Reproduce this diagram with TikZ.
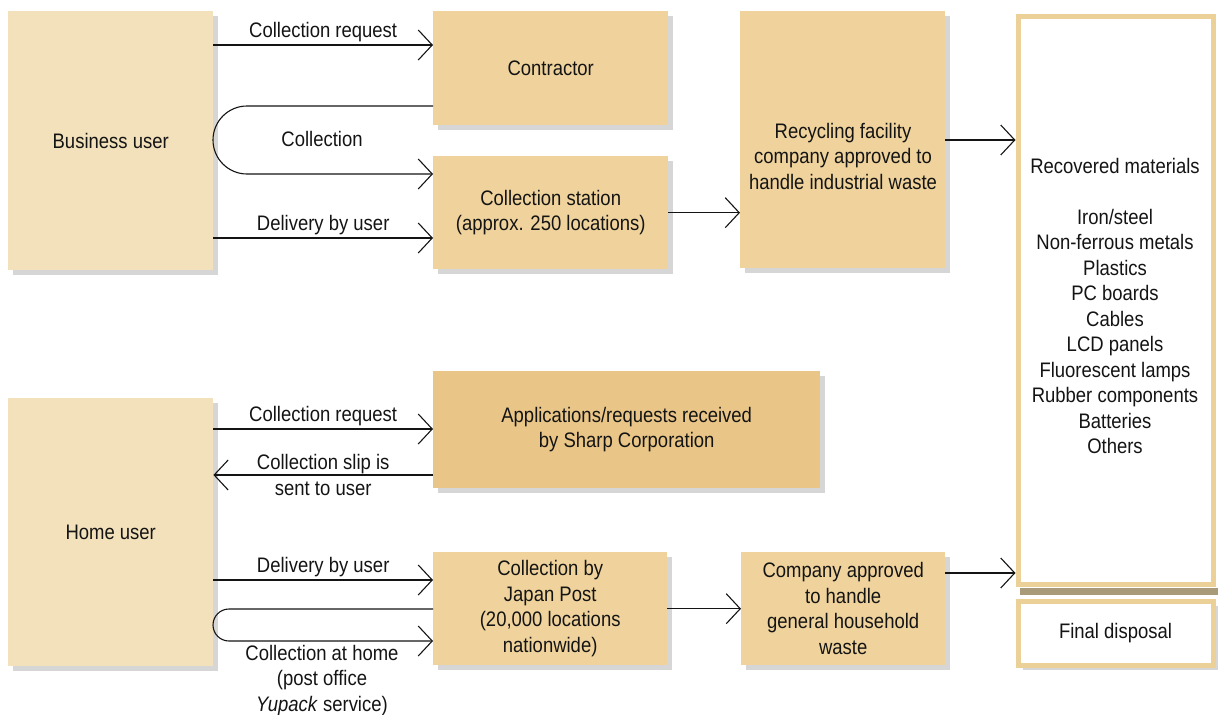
\documentclass[tikz,border=0pt]{standalone}
\usepackage{fontspec}
\setmainfont{Liberation Sans}[FakeStretch=0.88]
\usetikzlibrary{arrows.meta,shadows}

\definecolor{userfill}{HTML}{F3E1BB}
\definecolor{boxfill}{HTML}{F0D39C}
\definecolor{appfill}{HTML}{E9C687}
\definecolor{rimcol}{HTML}{EBD097}
\definecolor{bandcol}{HTML}{A99B7A}
\definecolor{inkcol}{HTML}{141414}

\begin{document}
\begin{tikzpicture}
      [x=1pt,y=-1pt
      ,font=\fontsize{21}{25.5}\selectfont
      ,every node/.style={text=inkcol}
      ,flat/.style={anchor=north west,inner sep=0,align=center}
      ,shade/.style={general shadow={shadow xshift=5pt,shadow yshift=-5pt,fill=black,opacity=.16}}
      ,box/.style={flat,shade,fill=boxfill}
      ,user/.style={box,fill=userfill}
      ,rim/.style={flat,draw=rimcol,line width=5pt,fill=white}
      ,flow/.style={line width=1.1pt,draw=inkcol,-{Straight Barb[length=14pt,width=30pt]}}
      ,lbl/.style={inner sep=2pt,align=center}]
        \useasboundingbox (0,0) rectangle (1219,715);
        % left column
        \node[user,minimum width=205,minimum height=259] (biz) at (8,11) {Business user};
        \node[user,minimum width=205,minimum height=268] (home) at (8,398) {Home user};
        % middle boxes
        \node[box,minimum width=235,minimum height=114] (contr) at (433,11) {Contractor};
        \node[box,minimum width=235,minimum height=113] (stat) at (433,156)
              {Collection station\\(approx. 250 locations)};
        \node[box,minimum width=205,minimum height=257] (recyc) at (740,11) {};
        \node[lbl] (recyctext) at (843,156)
              {Recycling facility\\company approved to\\handle industrial waste};
        \node[box,fill=appfill,minimum width=387,minimum height=117] (apps) at (433,371)
              {Applications/requests received\\by Sharp Corporation};
        \node[box,minimum width=234,minimum height=113] (jpost) at (433,552)
              {Collection by\\Japan Post\\(20,000 locations\\nationwide)};
        \node[box,minimum width=204,minimum height=113] (comp) at (741,552)
              {Company approved\\to handle\\general household\\waste};
        % right column
        \node[rim,minimum width=195,minimum height=568] (recov) at (1015.5,13.5) {};
        \fill[bandcol] (1020,588) rectangle (1218,595);
        \node[rim,shade,minimum width=195,minimum height=64] (final) at (1015.5,598.5) {Final disposal};
        \node (recovhead) at (1115,166) {Recovered materials};
        \node[align=center] (matlist) at (1115,331.5)
              {Iron/steel\\Non-ferrous metals\\Plastics\\PC boards\\Cables\\LCD panels\\
               Fluorescent lamps\\Rubber components\\Batteries\\Others};

        % business user flows
        \draw[flow] (biz.east |- 0,45) -- (contr.west |- 0,45)
              node[lbl,above=1pt,midway] (bizreq) {Collection request};
        \draw[flow] (contr.west |- 0,106) -- (247,106)
              arc[start angle=270,end angle=90,radius=34] -- (stat.west |- 0,174);
        \node[lbl] (bizcoll) at (322,139) {Collection};
        \draw[flow] (biz.east |- 0,238) -- (stat.west |- 0,238)
              node[lbl,above=1pt,midway] (bizdeliv) {Delivery by user};
        \draw[flow] (stat.east) -- (recyc.west |- stat.east);
        \draw[flow] (recyc.east |- 0,140) -- (recov.west |- 0,140);

        % home user flows
        \draw[flow] (home.east |- 0,429) -- (apps.west |- 0,429)
              node[lbl,above=1pt,midway] (homereq) {Collection request};
        \draw[flow] (apps.west |- 0,475) -- (home.east |- 0,475)
              node[lbl,midway] (homeslip) {Collection slip is\\sent to user};
        \draw[flow] (home.east |- 0,580) -- (jpost.west |- 0,580)
              node[lbl,above=1pt,midway] (homedeliv) {Delivery by user};
        \draw[flow] (jpost.west |- 0,609) -- (229,609)
              arc[start angle=270,end angle=90,radius=16] -- (jpost.west |- 0,641);
        \node[lbl,anchor=north] (homecoll) at (322,643)
              {Collection at home\\(post office\\\textit{Yupack} service)};
        \draw[flow] (jpost.east) -- (comp.west |- jpost.east);
        \draw[flow] (comp.east |- 0,573) -- (recov.west |- 0,573);
      \end{tikzpicture}
\end{document}
